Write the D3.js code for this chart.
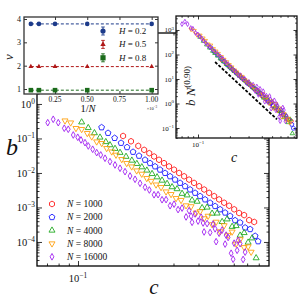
<!DOCTYPE html>
<meta charset="utf-8">
<style>
body { margin: 0; background: #fff; }
text { font-family: "Liberation Serif", "DejaVu Serif", serif; fill: #111; }
</style>
<body>
<svg width="300" height="300"></svg>
<script src="https://cdn.jsdelivr.net/npm/d3@7/dist/d3.min.js"></script>
<script>
// ---- data ----
var sizes = [1000, 2000, 4000, 8000, 16000];

var c1000 = [0.168, 0.184, 0.200, 0.214, 0.227, 0.240, 0.254, 0.269, 0.285, 0.302, 0.320, 0.339, 0.359, 0.380, 0.403, 0.427, 0.452, 0.479, 0.507, 0.537, 0.569, 0.603, 0.638, 0.676, 0.716, 0.759];
var b1000 = [0.118, 0.0828, 0.0608, 0.0467, 0.0374, 0.0300, 0.0241, 0.0193, 0.0155, 0.01245, 0.00998, 0.00800, 0.00641, 0.00515, 0.00413, 0.00331, 0.00265, 0.00213, 0.00171, 0.00137, 0.00112, 0.000883, 0.000690, 0.000600, 0.000430, 0.000380];

var c2000 = [0.1312, 0.1413, 0.1524, 0.1641, 0.1758, 0.1884, 0.2018, 0.2163, 0.2291, 0.2427, 0.2570, 0.2723, 0.2884, 0.3055, 0.3236, 0.3428, 0.3631, 0.3846, 0.4074, 0.4315, 0.4571, 0.4842, 0.5129, 0.5433, 0.5754, 0.6095, 0.6457, 0.6839, 0.7244, 0.7674, 0.7943];
var b2000 = [0.2094, 0.1440, 0.1028, 0.0741, 0.0556, 0.0407, 0.0313, 0.0240, 0.0192, 0.0154, 0.01239, 0.00993, 0.00796, 0.00638, 0.00513, 0.00411, 0.00330, 0.00264, 0.00212, 0.00170, 0.00136, 0.00109, 0.000879, 0.000705, 0.000565, 0.000423, 0.000364, 0.000260, 0.000234, 0.000149, 0.000104];

var c4000 = [0.1043, 0.1125, 0.1208, 0.1288, 0.1377, 0.1445, 0.1531, 0.1622, 0.1738, 0.1858, 0.1968, 0.2084, 0.2208, 0.2344, 0.2483, 0.2630, 0.2786, 0.2951, 0.3126, 0.3311, 0.3508, 0.3715, 0.3936, 0.4169, 0.4416, 0.4677, 0.4955, 0.5248, 0.5559, 0.5888, 0.6166, 0.6457, 0.6761, 0.7079, 0.7413, 0.7762];
var b4000 = [0.2965, 0.2032, 0.1442, 0.1076, 0.0796, 0.0646, 0.0506, 0.0388, 0.0298, 0.0231, 0.0185, 0.01483, 0.01189, 0.00946, 0.00759, 0.00608, 0.00489, 0.00392, 0.00344, 0.00252, 0.00227, 0.00162, 0.00149, 0.000973, 0.001007, 0.000671, 0.000678, 0.000385, 0.000457, 0.000278, 0.000293, 0.000155, 0.000184, 0.0000971, 0.000129, 0.0000342];

var c8000 = [0.0861, 0.0919, 0.0977, 0.1043, 0.1113, 0.1171, 0.1240, 0.1314, 0.1391, 0.1474, 0.1549, 0.1654, 0.1751, 0.1855, 0.1965, 0.2082, 0.2206, 0.2317, 0.2455, 0.2600, 0.2754, 0.2917, 0.3090, 0.3273, 0.3467, 0.3673, 0.3890, 0.4074, 0.4266, 0.4467, 0.4677, 0.4898, 0.5129, 0.5370, 0.5623, 0.5888, 0.6166, 0.6457, 0.6761, 0.7079, 0.7328];
var b8000 = [0.328, 0.287, 0.1977, 0.1849, 0.1416, 0.1127, 0.0807, 0.0726, 0.0520, 0.0414, 0.0333, 0.0249, 0.0191, 0.01524, 0.01167, 0.00935, 0.00701, 0.00582, 0.00456, 0.00384, 0.00287, 0.00241, 0.001845, 0.001626, 0.001135, 0.001069, 0.000697, 0.000771, 0.000479, 0.000566, 0.000321, 0.000380, 0.000201, 0.000300, 0.000158, 0.000197, 0.0000885, 0.000118, 0.0000698, 0.0000736, 0.0000513];

var c16000 = [0.0706, 0.0752, 0.0797, 0.0854, 0.0894, 0.0947, 0.0997, 0.1035, 0.1084, 0.1126, 0.1184, 0.1240, 0.1299, 0.1365, 0.1445, 0.1531, 0.1622, 0.1718, 0.1820, 0.1928, 0.2042, 0.2163, 0.2272, 0.2399, 0.2512, 0.2630, 0.2754, 0.2884, 0.3020, 0.3162, 0.3311, 0.3467, 0.3589, 0.3673, 0.3715, 0.3846, 0.3981, 0.4121, 0.4217, 0.4266, 0.4416, 0.4571, 0.4732, 0.4842, 0.4898, 0.5070, 0.5248, 0.5433, 0.5495, 0.5623, 0.5821, 0.5957, 0.6026, 0.6237, 0.6310, 0.6457, 0.6683, 0.6839];
var b16000 = [0.287, 0.360, 0.287, 0.198, 0.185, 0.1262, 0.1084, 0.0905, 0.0756, 0.0606, 0.0487, 0.0388, 0.0333, 0.0267, 0.0213, 0.01706, 0.01368, 0.01091, 0.00818, 0.00656, 0.00502, 0.00385, 0.00321, 0.00233, 0.00235, 0.001675, 0.00169, 0.001125, 0.001245, 0.000867, 0.000959, 0.000531, 0.000807, 0.000562, 0.000372, 0.000649, 0.000403, 0.000522, 0.000355, 0.000195, 0.000341, 0.000188, 0.000330, 0.000240, 0.000102, 0.000179, 0.000221, 0.0000867, 0.000158, 0.000135, 0.0000471, 0.0000316, 0.0000923, 0.0000573, 0.000112, 0.0000891, 0.0000311, 0.0000507];

var collapseExp = 0.90;
var guideC = [0.145, 0.556];
var guideY = [49.4, 0.226];

// inset: exponent nu vs 1/N
var hLabels = ["0.2", "0.5", "0.8"];
var invN = [1 / 16000, 1 / 8000, 1 / 4000, 1 / 2000, 1 / 1000];
var nuH02 = [3.79, 3.79, 3.79, 3.79, 3.79];
var nuH05 = [1.96, 1.96, 1.96, 1.96, 1.96];
var nuH08 = [0.95, 0.95, 0.95, 0.95, 0.95];
var invNTicks = [0.25e-3, 0.50e-3, 0.75e-3, 1.00e-3];
var nuTicks = [1, 2, 3, 4];

var series = [
  {n: sizes[0], c: c1000, b: b1000, color: "#ff1a1a", shape: "hex"},
  {n: sizes[1], c: c2000, b: b2000, color: "#1a1aff", shape: "pent"},
  {n: sizes[2], c: c4000, b: b4000, color: "#22aa22", shape: "tup"},
  {n: sizes[3], c: c8000, b: b8000, color: "#ffa010", shape: "tdown"},
  {n: sizes[4], c: c16000, b: b16000, color: "#a020f0", shape: "dia"}
];
var nuSeries = [
  {h: hLabels[0], nu: nuH02, color: "#1c3a8a", shape: "circ"},
  {h: hLabels[1], nu: nuH05, color: "#b01818", shape: "tup"},
  {h: hLabels[2], nu: nuH08, color: "#1b6b1b", shape: "sq"}
];

// ---- helpers ----
function poly(n, r, start) {
  var pts = d3.range(n).map(function(i) {
    var a = (start + i * 360 / n) * Math.PI / 180;
    return [r * Math.cos(a), r * Math.sin(a)];
  });
  return "M" + pts.map(function(p) { return p[0].toFixed(2) + "," + p[1].toFixed(2); }).join("L") + "Z";
}
function shapePath(shape, r) {
  if (shape == "hex") return poly(6, r, -90);
  if (shape == "pent") return poly(5, r * 1.05, -90);
  if (shape == "tup") return poly(3, r * 1.2, -90);
  if (shape == "tdown") return poly(3, r * 1.2, 90);
  if (shape == "dia") return "M0," + (-r * 1.15) + "L" + (r * 0.65) + ",0L0," + (r * 1.15) + "L" + (-r * 0.65) + ",0Z";
  if (shape == "sq") return "M" + (-r) + "," + (-r) + "h" + (2 * r) + "v" + (2 * r) + "h" + (-2 * r) + "Z";
  return d3.symbol().type(d3.symbolCircle).size(Math.PI * r * r)();
}
function supLabel(sel, base, sup, fs) {
  sel.text(base);
  sel.append("tspan").attr("dy", -fs * 0.42).attr("font-size", fs * 0.7).text(sup);
}
function logMinors(lo, hi) {
  var out = [];
  for (var e = -6; e <= 4; e++)
    for (var m = 2; m <= 9; m++) {
      var v = m * Math.pow(10, e);
      if (v > lo && v < hi) out.push(v);
    }
  return out;
}
function tickSet(g, x, y, xv, yv, len, box) {
  var sides = [
    [d3.axisBottom(x), "translate(0," + box.b + ")", xv],
    [d3.axisTop(x), "translate(0," + box.t + ")", xv],
    [d3.axisLeft(y), "translate(" + box.l + ",0)", yv],
    [d3.axisRight(y), "translate(" + box.r + ",0)", yv]
  ];
  sides.forEach(function(s) {
    g.append("g").attr("transform", s[1])
      .call(s[0].tickValues(s[2]).tickSize(-len).tickFormat(""))
      .call(function(a) { a.select(".domain").remove(); a.selectAll("line").attr("stroke-width", 0.8); });
  });
}

var svg = d3.select("svg");

// ---- main plot ----
var mBox = {l: 37, r: 269, t: 33, b: 266};
var x = d3.scaleLog().domain([0.0624, 0.90]).range([mBox.l, mBox.r]);
var y = d3.scaleLog().domain([2.01e-5, 114]).range([mBox.b, mBox.t]);
var main = svg.append("g");

tickSet(main, x, y, [0.1], [1e-4, 1e-3, 1e-2, 1e-1, 1, 10, 100], 5, mBox);
tickSet(main, x, y, logMinors(0.0624, 0.9), logMinors(2.01e-5, 114), 2.5, mBox);
main.append("rect").attr("x", mBox.l).attr("y", mBox.t)
  .attr("width", mBox.r - mBox.l).attr("height", mBox.b - mBox.t)
  .attr("fill", "none").attr("stroke", "#000").attr("stroke-width", 1.3);

[-4, -3, -2, -1, 0].forEach(function(e) {
  main.append("text").attr("x", mBox.l - 2).attr("y", y(Math.pow(10, e)) + 4)
    .attr("text-anchor", "end").attr("font-size", 10.5)
    .call(supLabel, "10", e < 0 ? "\u2212" + (-e) : "" + e, 10.5);
});
main.append("text").attr("x", x(0.1)).attr("y", mBox.b + 16)
  .attr("text-anchor", "middle").attr("font-size", 10.5)
  .call(supLabel, "10", "\u22121", 10.5);

main.append("text").attr("x", 12).attr("y", 155).attr("text-anchor", "middle")
  .attr("font-size", 24).attr("font-style", "italic").text("b");
main.append("text").attr("x", 154).attr("y", 294).attr("text-anchor", "middle")
  .attr("font-size", 21).attr("font-style", "italic").text("c");

series.forEach(function(s) {
  main.append("g").selectAll("path").data(s.c).enter().append("path")
    .attr("d", shapePath(s.shape, 2.9))
    .attr("transform", function(d, i) { return "translate(" + x(d) + "," + y(s.b[i]) + ")"; })
    .attr("fill", "none").attr("stroke", s.color).attr("stroke-width", 0.9);
});

var leg = main.append("g");
series.forEach(function(s, i) {
  var ly = 204 + i * 13.2;
  leg.append("path").attr("d", shapePath(s.shape, 2.9))
    .attr("transform", "translate(52," + ly + ")")
    .attr("fill", "none").attr("stroke", s.color).attr("stroke-width", 0.9);
  var t = leg.append("text").attr("x", 67).attr("y", ly + 3.2).attr("font-size", 9.5);
  t.append("tspan").attr("font-style", "italic").text("N");
  t.append("tspan").text(" = " + s.n);
});

// ---- left inset: nu vs 1/N ----
var lBox = {l: 24, r: 158, t: 17, b: 94};
var xL = d3.scaleLinear().domain([0.0093e-3, 1.049e-3]).range([lBox.l, lBox.r]);
var yL = d3.scaleLinear().domain([0.786, 4.086]).range([lBox.b, lBox.t]);
var ins1 = svg.append("g");
ins1.append("rect").attr("x", lBox.l).attr("y", lBox.t)
  .attr("width", lBox.r - lBox.l).attr("height", lBox.b - lBox.t).attr("fill", "#fff");
tickSet(ins1, xL, yL, invNTicks, nuTicks, 3, lBox);
ins1.append("rect").attr("x", lBox.l).attr("y", lBox.t)
  .attr("width", lBox.r - lBox.l).attr("height", lBox.b - lBox.t)
  .attr("fill", "none").attr("stroke", "#333").attr("stroke-width", 1.3);

invNTicks.forEach(function(v) {
  ins1.append("text").attr("x", xL(v)).attr("y", lBox.b + 7.5).attr("text-anchor", "middle")
    .attr("font-size", 7.5).text((v * 1e3).toFixed(2));
});
nuTicks.forEach(function(v) {
  ins1.append("text").attr("x", lBox.l - 3).attr("y", yL(v) + 3).attr("text-anchor", "end")
    .attr("font-size", 8).text(v);
});
ins1.append("text").attr("x", 152).attr("y", 109.5).attr("text-anchor", "middle")
  .attr("font-size", 4.5).call(supLabel, "\u00d710", "\u22123", 4.5);
var xlab = ins1.append("text").attr("x", 88).attr("y", 111.5).attr("text-anchor", "middle").attr("font-size", 10.5);
xlab.append("tspan").text("1/");
xlab.append("tspan").attr("font-style", "italic").text("N");
ins1.append("text").attr("transform", "translate(13,57) rotate(-90)").attr("text-anchor", "middle")
  .attr("font-size", 13).attr("font-style", "italic").text("\u03bd");

var nuLine = d3.line().x(function(d) { return xL(d[0]); }).y(function(d) { return yL(d[1]); });
nuSeries.forEach(function(s) {
  var pts = invN.map(function(v, i) { return [v, s.nu[i]]; });
  ins1.append("path").attr("d", nuLine(pts)).attr("fill", "none")
    .attr("stroke", s.color).attr("stroke-width", 1).attr("stroke-dasharray", "3,2");
  ins1.append("g").selectAll("path").data(pts).enter().append("path")
    .attr("d", shapePath(s.shape, 2.3))
    .attr("transform", function(d) { return "translate(" + xL(d[0]) + "," + yL(d[1]) + ")"; })
    .attr("fill", s.color);
});
nuSeries.forEach(function(s, i) {
  var ly = 31 + i * 13.4;
  var lg = ins1.append("g").attr("transform", "translate(103," + ly + ")");
  lg.append("path").attr("d", "M0,-4V4M-1.8,-4H1.8M-1.8,4H1.8").attr("stroke", s.color).attr("stroke-width", 0.9);
  lg.append("path").attr("d", shapePath(s.shape, 2.6)).attr("fill", s.color);
  var t = ins1.append("text").attr("x", 119).attr("y", ly + 3).attr("font-size", 9);
  t.append("tspan").attr("font-style", "italic").text("H");
  t.append("tspan").text(" = " + s.h);
});

// ---- right inset: collapse b N^0.90 vs c ----
var rBox = {l: 176, r: 297, t: 16, b: 138};
var xR = d3.scaleLog().domain([0.062, 0.859]).range([rBox.l, rBox.r]);
var yR = d3.scaleLog().domain([0.0391, 3727]).range([rBox.b, rBox.t]);
var ins2 = svg.append("g");
ins2.append("rect").attr("x", rBox.l).attr("y", rBox.t)
  .attr("width", rBox.r - rBox.l).attr("height", rBox.b - rBox.t).attr("fill", "#fff");
tickSet(ins2, xR, yR, [0.1], [0.1, 1, 10, 100, 1000], 3.5, rBox);
tickSet(ins2, xR, yR, logMinors(0.062, 0.859), logMinors(0.0391, 3727), 1.8, rBox);

ins2.append("path")
  .attr("d", d3.line()(guideC.map(function(v, i) { return [xR(v), yR(guideY[i])]; })))
  .attr("stroke", "#000").attr("stroke-width", 1.8).attr("stroke-dasharray", "3,1.6").attr("fill", "none");

series.forEach(function(s) {
  var f = Math.pow(s.n, collapseExp);
  ins2.append("g").selectAll("path").data(s.c).enter().append("path")
    .attr("d", shapePath(s.shape, 2.1))
    .attr("transform", function(d, i) { return "translate(" + xR(d) + "," + yR(s.b[i] * f) + ")"; })
    .attr("fill", "none").attr("stroke", s.color).attr("stroke-width", 0.8);
});

ins2.append("rect").attr("x", rBox.l).attr("y", rBox.t)
  .attr("width", rBox.r - rBox.l).attr("height", rBox.b - rBox.t)
  .attr("fill", "none").attr("stroke", "#111").attr("stroke-width", 1.3);

[-1, 0, 1, 2, 3].forEach(function(e) {
  ins2.append("text").attr("x", rBox.l - 2).attr("y", yR(Math.pow(10, e)) + 2.5)
    .attr("text-anchor", "end").attr("font-size", 7)
    .call(supLabel, "10", e < 0 ? "\u2212" + (-e) : "" + e, 7);
});
ins2.append("text").attr("x", xR(0.1)).attr("y", rBox.b + 9).attr("text-anchor", "middle")
  .attr("font-size", 7).call(supLabel, "10", "\u22121", 7);
ins2.append("text").attr("x", 234).attr("y", 162).attr("text-anchor", "middle")
  .attr("font-size", 14).attr("font-style", "italic").text("c");
var ylab = ins2.append("text").attr("transform", "translate(195,86) rotate(-90)")
  .attr("text-anchor", "middle").attr("font-size", 13);
ylab.append("tspan").attr("font-style", "italic").text("b N");
ylab.append("tspan").attr("dy", -5).attr("font-size", 9).text("(0.90)");
</script>
</body>
